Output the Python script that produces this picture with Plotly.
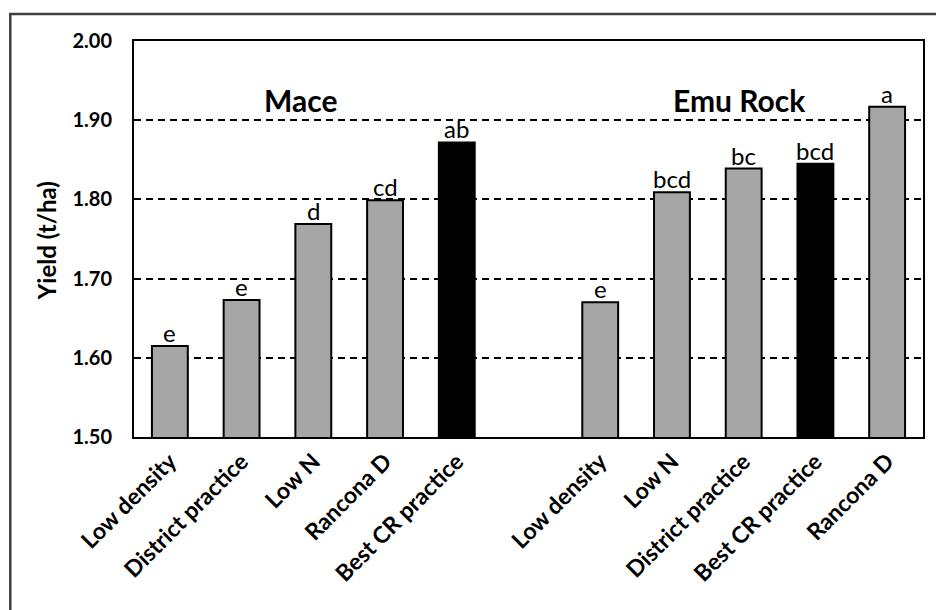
import plotly.graph_objects as go

# Yield by treatment at two sites, Mace and Emu Rock
mace_treatments = ["Low density", "District practice", "Low N", "Rancona D", "Best CR practice"]
mace_yield = [1.615, 1.673, 1.769, 1.799, 1.872]
mace_letters = ["e", "e", "d", "cd", "ab"]

emu_treatments = ["Low density", "Low N", "District practice", "Best CR practice", "Rancona D"]
emu_yield = [1.670, 1.809, 1.839, 1.845, 1.917]
emu_letters = ["e", "bcd", "bc", "bcd", "a"]

y_ticks = [1.50, 1.60, 1.70, 1.80, 1.90, 2.00]

# slot positions: Mace 0-4, one empty slot, Emu Rock 6-10
mace_x = list(range(5))
emu_x = [i + 6 for i in range(5)]
all_x = mace_x + emu_x
all_y = mace_yield + emu_yield
all_labels = mace_treatments + emu_treatments
all_letters = mace_letters + emu_letters
colors = ["#A6A6A6" if "Best CR" not in t else "#000000" for t in all_labels]

FONT = "Lato"

fig = go.Figure()
fig.add_trace(go.Bar(
    x=all_x, y=all_y, width=0.5,
    marker=dict(color=colors, line=dict(color="#000000", width=2)),
    showlegend=False,
))

annotations = []
for xv, yv, lt in zip(all_x, all_y, all_letters):
    annotations.append(dict(
        x=xv, y=yv, xref="x", yref="y", text=lt, showarrow=False,
        yanchor="bottom", yshift=-3,
        font=dict(family=FONT, size=24, color="#000000"),
    ))

annotations.append(dict(x=2, y=1.90, xref="x", yref="y", text="<b>Mace</b>",
                        showarrow=False, xanchor="center", yanchor="bottom", xshift=-13, yshift=0,
                        font=dict(family=FONT, size=30, color="#000000")))
annotations.append(dict(x=8, y=1.90, xref="x", yref="y", text="<b>Emu Rock</b>",
                        showarrow=False, xanchor="center", yanchor="bottom", xshift=-4, yshift=0,
                        font=dict(family=FONT, size=30, color="#000000")))
annotations.append(dict(x=-0.11, y=0.495, xref="paper", yref="paper", text="<b>Yield (t/ha)</b>",
                        showarrow=False, textangle=-90, xanchor="center", yanchor="middle",
                        font=dict(family=FONT, size=24, color="#000000")))

fig.update_layout(
    width=936, height=610,
    margin=dict(l=134, r=11, t=41, b=173),
    paper_bgcolor="#FFFFFF", plot_bgcolor="#FFFFFF",
    annotations=annotations,
    shapes=[dict(type="rect", xref="paper", yref="paper",
                 x0=-0.1568, x1=1.03, y0=-0.46, y1=1.068,
                 line=dict(color="#404040", width=2.5), layer="below")],
)

fig.update_xaxes(
    range=[-0.5, 10.5],
    tickmode="array", tickvals=all_x, ticktext=[f"<b>{t}</b>" for t in all_labels],
    tickangle=-45, tickfont=dict(family=FONT, size=23, color="#000000"),
    showgrid=False, zeroline=False,
    showline=True, linecolor="#000000", linewidth=2, mirror=True,
    ticks="",
)
fig.update_yaxes(
    range=[1.50, 2.00],
    tickmode="array", tickvals=y_ticks, ticktext=[f"<b>{v:.2f}</b>" for v in y_ticks],
    tickfont=dict(family=FONT, size=20, color="#000000"),
    ticks="inside", ticklen=5, tickcolor="#000000", tickwidth=1.5,
    ticklabelstandoff=16,
    showgrid=True, gridcolor="#000000", gridwidth=1.5, griddash="7px,5px",
    zeroline=False,
    showline=True, linecolor="#000000", linewidth=2, mirror=True,
)

fig.write_html("out.html")
